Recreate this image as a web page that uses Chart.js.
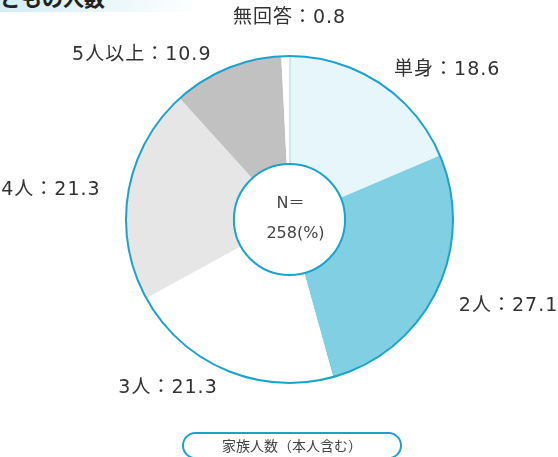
<!DOCTYPE html>
<html>
<head>
<meta charset="utf-8">
<script src="https://cdn.jsdelivr.net/npm/chart.js@4.4.1/dist/chart.umd.min.js"></script>
<style>
  html,body{margin:0;padding:0;background:#fff;}
  #wrap{position:relative;width:558px;height:457px;overflow:hidden;font-family:"Noto Sans CJK JP","Noto Sans",sans-serif;}
  #title{position:absolute;left:0;top:0;width:200px;height:12px;overflow:hidden;
    background:linear-gradient(to right,#d3ecf5 0%,#e6f5fa 45%,#ffffff 100%);}
  #title span{position:absolute;left:-21px;top:-13px;font-size:21px;line-height:21px;font-weight:bold;color:#222;white-space:nowrap;}
  #pill{position:absolute;left:182px;top:432px;width:220px;height:27px;border:2px solid #1aa3cc;border-radius:14px;
    box-sizing:border-box;text-align:center;font-size:14px;line-height:22px;color:#444;background:#fff;}
  canvas{position:absolute;left:0;top:0;}
</style>
</head>
<body>
<div id="wrap">
  <canvas id="c" width="558" height="457"></canvas>
  <div id="title"><span>子どもの人数</span></div>
  <div id="pill">家族人数（本人含む）</div>
</div>
<script>
var labels = ['単身', '2人', '3人', '4人', '5人以上', '無回答'];
var values = [18.6, 27.1, 21.3, 21.3, 10.9, 0.8];
var colors = ['#e6f6fb', '#80cfe3', '#ffffff', '#e6e6e6', '#c1c1c1', '#ffffff'];
var totalN = 258;

// label placement: angle from 12 o'clock (deg), distance in radius units
var labelPlace = [
  [46.5, 1.33],
  [111.5, 1.44],
  [215.8, 1.27],
  [277, 1.47],
  [318, 1.35],
  [0, 1.23]
];

var ring = {
  id: 'ring',
  afterDatasetsDraw: function(chart){
    var ctx = chart.ctx;
    var arc = chart.getDatasetMeta(0).data[0];
    var x = arc.x, y = arc.y, R = arc.outerRadius, r = arc.innerRadius;
    ctx.save();
    // thin divider between 無回答 and 単身
    ctx.strokeStyle = '#9fd6e8';
    ctx.lineWidth = 1;
    ctx.beginPath();
    ctx.moveTo(x + 0.5, y - r);
    ctx.lineTo(x + 0.5, y - R);
    ctx.stroke();
    ctx.strokeStyle = '#1aa3cc';
    ctx.lineWidth = 2;
    ctx.beginPath();
    ctx.arc(x, y, R, 0, Math.PI * 2);
    ctx.stroke();
    ctx.fillStyle = '#fff';
    ctx.beginPath();
    ctx.arc(x, y, r, 0, Math.PI * 2);
    ctx.fill();
    ctx.stroke();

    ctx.fillStyle = '#444';
    ctx.textAlign = 'center';
    ctx.textBaseline = 'middle';
    ctx.font = '16px "DejaVu Sans", "Noto Sans CJK JP", sans-serif';
    ctx.fillText('N＝', x + 1, y - 16);
    ctx.fillText(totalN + '(%)', x + 6, y + 14);

    ctx.fillStyle = '#333';
    ctx.font = '19px "DejaVu Sans", "Noto Sans CJK JP", sans-serif';
    ctx.letterSpacing = '1px';
    labels.forEach(function(lb, i){
      var p = labelPlace[i];
      var a = p[0] * Math.PI / 180;
      var lx = x + Math.sin(a) * R * p[1];
      var ly = y - Math.cos(a) * R * p[1];
      ctx.fillText(lb + '：' + values[i], lx, ly);
    });
    ctx.restore();
  }
};

new Chart(document.getElementById('c').getContext('2d'), {
  type: 'doughnut',
  data: {
    labels: labels,
    datasets: [{ data: values, backgroundColor: colors, borderWidth: 0 }]
  },
  options: {
    responsive: false,
    animation: false,
    cutout: '34%',
    layout: { padding: { left: 126, right: 105, top: 56, bottom: 74 } },
    plugins: { legend: { display: false }, tooltip: { enabled: false } }
  },
  plugins: [ring]
});
</script>
</body>
</html>
